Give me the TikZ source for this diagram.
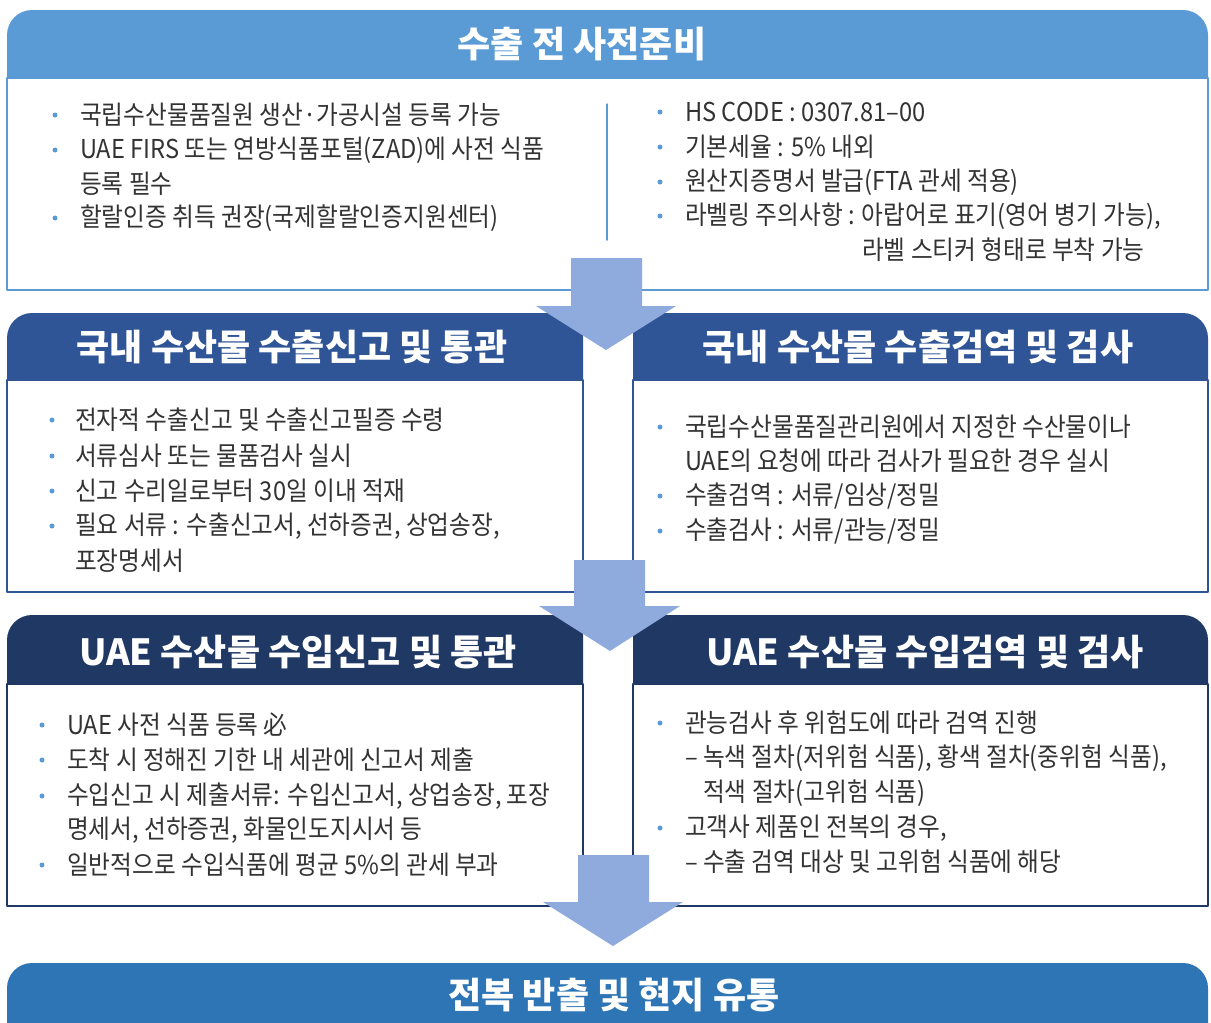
\documentclass[tikz,border=0pt]{standalone}
\usepackage{fontspec}
\setmainfont{Noto Sans CJK KR}[FakeStretch=0.91]
\newfontfamily\hdfont{Noto Sans CJK KR}
\usepackage{tikz}
\definecolor{vbzbdv}{rgb}{0.357,0.608,0.835}
\definecolor{sfvvzx}{rgb}{0.184,0.333,0.592}
\definecolor{sqtyww}{rgb}{0.125,0.220,0.392}
\definecolor{sexvbw}{rgb}{0.180,0.459,0.714}
\definecolor{yfaadc}{rgb}{0.561,0.667,0.863}
\definecolor{tttttt}{rgb}{0.2,0.2,0.2}

\begin{document}
\begin{tikzpicture}[line cap=round,line join=round,x=1pt,y=-1pt,
  bodytxt/.style={anchor=west,inner sep=0pt,text=tttttt,font=\fontsize{26}{30}\selectfont},
  hdtxt/.style={inner sep=0pt,text=white,font=\hdfont\bfseries\fontsize{36}{40}\selectfont}]
\clip(0,0) rectangle (1211,1023);
% top: 사전준비
\draw[color=vbzbdv,line width=1.5pt,fill=white] (7,78) rectangle (1208,290);
\fill[color=vbzbdv] (7,78) -- (7,35) arc[start angle=180,end angle=270,radius=25] -- (1183,10) arc[start angle=270,end angle=360,radius=25] -- (1208,78) -- cycle;
\draw[color=vbzbdv,line width=1.5pt] (607,104) -- (607,240);
% row 2
\draw[color=sfvvzx,line width=1.5pt,fill=white] (7,380) rectangle (583,592);
\draw[color=sfvvzx,line width=1.5pt,fill=white] (633,380) rectangle (1208,592);
\fill[color=sfvvzx] (7,380) -- (7,338) arc[start angle=180,end angle=270,radius=25] -- (583,313) -- (583,380) -- cycle;
\fill[color=sfvvzx] (633,380) -- (633,313) -- (1183,313) arc[start angle=270,end angle=360,radius=25] -- (1208,380) -- cycle;
% row 3
\draw[color=sqtyww,line width=1.5pt,fill=white] (7,684) rectangle (583,906);
\draw[color=sqtyww,line width=1.5pt,fill=white] (633,684) rectangle (1208,906);
\fill[color=sqtyww] (7,684) -- (7,640) arc[start angle=180,end angle=270,radius=25] -- (583,615) -- (583,684) -- cycle;
\fill[color=sqtyww] (633,684) -- (633,615) -- (1183,615) arc[start angle=270,end angle=360,radius=25] -- (1208,684) -- cycle;
% bottom bar
\fill[color=sexvbw] (7,1030) -- (7,988) arc[start angle=180,end angle=270,radius=25] -- (1183,963) arc[start angle=270,end angle=360,radius=25] -- (1208,1030) -- cycle;
% arrows
\fill[color=yfaadc] (571,258) -- (642,258) -- (642,306) -- (676,306) -- (606,350) -- (536,306) -- (571,306) -- cycle;
\fill[color=yfaadc] (574,560) -- (645,560) -- (645,606) -- (680,606) -- (610,651) -- (539,606) -- (574,606) -- cycle;
\fill[color=yfaadc] (578,855) -- (649,855) -- (649,902) -- (683,902) -- (613,946) -- (543,902) -- (578,902) -- cycle;
% titles
\draw (582,44) node[hdtxt] (hd0) {수출 전 사전준비};
\draw (292,347) node[hdtxt] (hd1) {국내 수산물 수출신고 및 통관};
\draw (918,347) node[hdtxt] (hd2) {국내 수산물 수출검역 및 검사};
\draw (298,652) node[hdtxt] (hd3) {UAE 수산물 수입신고 및 통관};
\draw (925,652) node[hdtxt] (hd4) {UAE 수산물 수입검역 및 검사};
\draw (614,995) node[hdtxt] (hd5) {전복 반출 및 현지 유통};
% top texts
\fill[color=vbzbdv] (55,115) circle (2.5pt);
\draw (80,115) node[bodytxt] (pa1) {국립수산물품질원 생산·가공시설 등록 가능};
\fill[color=vbzbdv] (55,150) circle (2.5pt);
\draw (80,150) node[bodytxt] (pa2) {UAE FIRS 또는 연방식품포털(ZAD)에 사전 식품};
\draw (80,184) node[bodytxt] (pa3) {등록 필수};
\fill[color=vbzbdv] (55,218) circle (2.5pt);
\draw (80,218) node[bodytxt] (pa4) {할랄인증 취득 권장(국제할랄인증지원센터)};
\fill[color=vbzbdv] (660,112) circle (2.5pt);
\draw (685,112) node[bodytxt] (pb1) {HS CODE : 0307.81–00};
\fill[color=vbzbdv] (660,147) circle (2.5pt);
\draw (685,147) node[bodytxt] (pb2) {기본세율 : 5\% 내외};
\fill[color=vbzbdv] (660,182) circle (2.5pt);
\draw (685,182) node[bodytxt] (pb3) {원산지증명서 발급(FTA 관세 적용)};
\fill[color=vbzbdv] (660,216) circle (2.5pt);
\draw (685,216) node[bodytxt] (pb4) {라벨링 주의사항 : 아랍어로 표기(영어 병기 가능),};
\draw (862,250) node[bodytxt] (pb5) {라벨 스티커 형태로 부착 가능};
% row 2 texts
\fill[color=vbzbdv] (52,420) circle (2.5pt);
\draw (75,420) node[bodytxt] (pc1) {전자적 수출신고 및 수출신고필증 수령};
\fill[color=vbzbdv] (52,456) circle (2.5pt);
\draw (75,456) node[bodytxt] (pc2) {서류심사 또는 물품검사 실시};
\fill[color=vbzbdv] (52,491) circle (2.5pt);
\draw (75,491) node[bodytxt] (pc3) {신고 수리일로부터 30일 이내 적재};
\fill[color=vbzbdv] (52,526) circle (2.5pt);
\draw (75,526) node[bodytxt] (pc4) {필요 서류 : 수출신고서, 선하증권, 상업송장,};
\draw (75,561) node[bodytxt] (pc5) {포장명세서};
\fill[color=vbzbdv] (660,427) circle (2.5pt);
\draw (685,427) node[bodytxt] (pd1) {국립수산물품질관리원에서 지정한 수산물이나};
\draw (685,461) node[bodytxt] (pd2) {UAE의 요청에 따라 검사가 필요한 경우 실시};
\fill[color=vbzbdv] (660,496) circle (2.5pt);
\draw (685,496) node[bodytxt] (pd3) {수출검역 : 서류/임상/정밀};
\fill[color=vbzbdv] (660,531) circle (2.5pt);
\draw (685,531) node[bodytxt] (pd4) {수출검사 : 서류/관능/정밀};
% row 3 texts
\fill[color=vbzbdv] (42,725) circle (2.5pt);
\draw (67,725) node[bodytxt] (pe1) {UAE 사전 식품 등록 必};
\fill[color=vbzbdv] (42,760) circle (2.5pt);
\draw (67,760) node[bodytxt] (pe2) {도착 시 정해진 기한 내 세관에 신고서 제출};
\fill[color=vbzbdv] (42,796) circle (2.5pt);
\draw (67,796) node[bodytxt] (pe3) {수입신고 시 제출서류: 수입신고서, 상업송장, 포장};
\draw (67,830) node[bodytxt] (pe4) {명세서, 선하증권, 화물인도지시서 등};
\fill[color=vbzbdv] (42,865) circle (2.5pt);
\draw (67,865) node[bodytxt] (pe5) {일반적으로 수입식품에 평균 5\%의 관세 부과};
\fill[color=vbzbdv] (660,723) circle (2.5pt);
\draw (685,723) node[bodytxt] (pf1) {관능검사 후 위험도에 따라 검역 진행};
\draw (685,758) node[bodytxt] (pf2) {– 녹색 절차(저위험 식품), 황색 절차(중위험 식품),};
\draw (703,793) node[bodytxt] (pf3) {적색 절차(고위험 식품)};
\fill[color=vbzbdv] (660,828) circle (2.5pt);
\draw (685,828) node[bodytxt] (pf4) {고객사 제품인 전복의 경우,};
\draw (685,862) node[bodytxt] (pf5) {– 수출 검역 대상 및 고위험 식품에 해당};
\end{tikzpicture}
\end{document}
